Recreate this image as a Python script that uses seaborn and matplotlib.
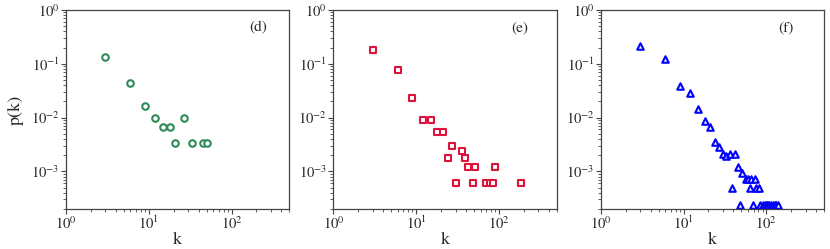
import numpy as np
import pandas as pd
import matplotlib
matplotlib.use('Agg')
import matplotlib.pyplot as plt
import seaborn as sns

sns.set_theme(style='ticks')
plt.rcParams['font.family'] = ['STIXGeneral', 'DejaVu Serif']
plt.rcParams['mathtext.fontset'] = 'stix'

# ─── Data ────────────────────────────────────────────────────
k_d = [3, 6, 9, 12, 15, 18, 21, 27, 33, 45, 51]
p_d = [0.133, 0.0433, 0.0167, 0.010, 0.0067, 0.0067, 0.0033, 0.010, 0.0033, 0.0033, 0.0033]

k_e = [3, 6, 9, 12, 15, 18, 21, 24, 27, 30, 36, 39, 42, 48, 51, 69, 78, 84, 90, 186]
p_e = [0.178, 0.075, 0.0227, 0.009, 0.009, 0.0054, 0.0054, 0.0018, 0.003, 0.0006,
       0.0024, 0.0018, 0.0012, 0.0006, 0.0012, 0.0006, 0.0006, 0.0006, 0.0012, 0.0006]

k_f = [3, 6, 9, 12, 15, 18, 21, 24, 27, 30, 33, 36, 42, 45, 51,
       57, 60, 66, 72, 39, 63, 75, 81,
       48, 69, 84, 90, 96, 99, 102, 105, 108, 114, 120, 126, 129, 132, 138]
p_f = [0.211, 0.123, 0.0383, 0.028, 0.0144, 0.0087, 0.0068, 0.0035, 0.0028, 0.0021,
       0.0019, 0.0021, 0.0021, 0.00118, 0.00095,
       0.00072, 0.00072, 0.00072, 0.00072, 0.00048, 0.00048, 0.00048, 0.00048,
       0.00024, 0.00024, 0.00024, 0.00024, 0.00024, 0.00024, 0.00024, 0.00024,
       0.00024, 0.00024, 0.00024, 0.00024, 0.00024, 0.00024, 0.00024]

panels = [
    (k_d, p_d, 'o', '#2e8b57', '(d)', 0.86),
    (k_e, p_e, 's', '#dc143c', '(e)', 0.835),
    (k_f, p_f, '^', '#0000ff', '(f)', 0.83),
]

# ─── Figure ──────────────────────────────────────────────────
fig, axes = plt.subplots(1, 3, figsize=(8.3, 2.49), dpi=100)
fig.subplots_adjust(left=0.0795, right=0.993, bottom=0.161, top=0.96, wspace=0.197)

for ax, (k, p, mk, col, tag, tx) in zip(axes, panels):
    df = pd.DataFrame({'k': k, 'p': p})
    sns.scatterplot(data=df, x='k', y='p', ax=ax, marker=mk, s=22,
                    facecolors='white', edgecolor=col, linewidth=1.5)
    ax.set_xscale('log')
    ax.set_yscale('log')
    ax.set_xlim(1, 500)
    ax.set_ylim(2e-4, 1)
    ax.set_yticks([1e-3, 1e-2, 1e-1, 1])
    ax.set_xticks([1, 10, 100])
    ax.tick_params(which='major', labelsize=10.5, length=3.5, width=0.8, color='#444444', pad=1)
    ax.tick_params(which='minor', length=2, width=0.6, color='#444444')
    for s in ax.spines.values():
        s.set_color('#444444')
        s.set_linewidth(0.9)
    ax.set_xlabel('k', fontsize=13, labelpad=0)
    ax.set_ylabel('')
    ax.text(tx, 0.91, tag, transform=ax.transAxes, fontsize=11, ha='center', va='center')

axes[0].set_ylabel('p(k)', fontsize=13, labelpad=5)

plt.savefig('out.png', dpi=100)
plt.close()
